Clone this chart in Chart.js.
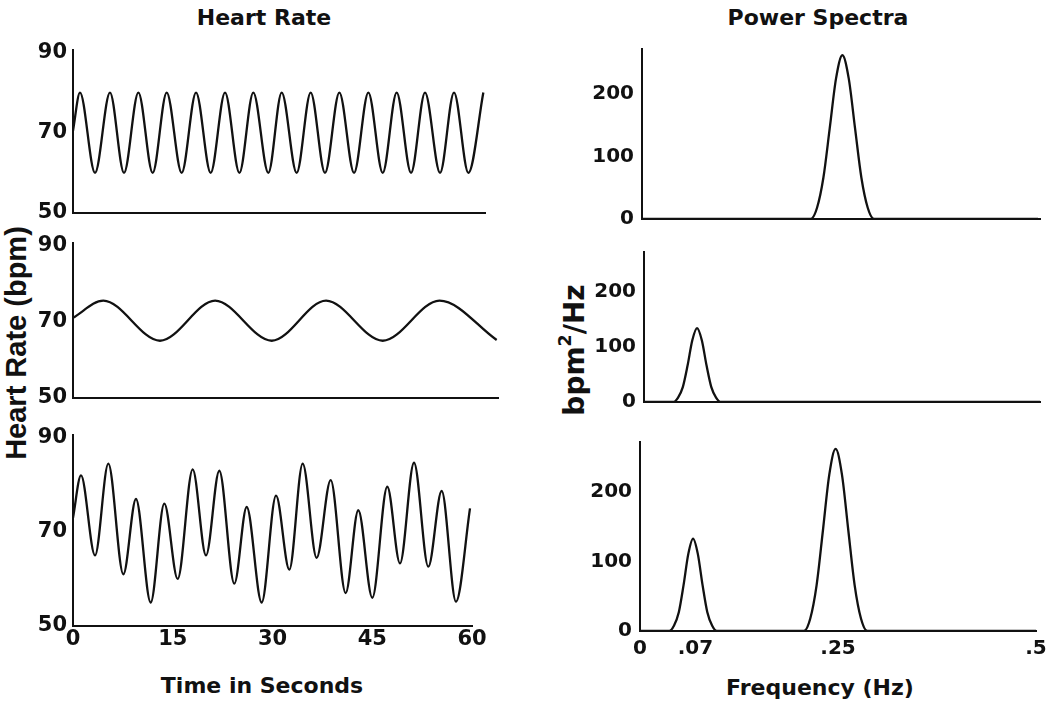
<!DOCTYPE html>
<html><head><meta charset="utf-8">
<script src="https://cdn.jsdelivr.net/npm/chart.js@4.4.1/dist/chart.umd.min.js"></script>
<style>
html,body{margin:0;padding:0;background:#fff;}
body{width:1050px;height:706px;position:relative;overflow:hidden;font-family:'DejaVu Sans',sans-serif;font-weight:bold;color:#111;}
canvas{position:absolute;}
.lbl{position:absolute;white-space:nowrap;transform:translate(-50%,-50%);line-height:1;}
.rot{transform:translate(-50%,-50%) rotate(-90deg);}
sup{font-size:0.62em;vertical-align:0.75em;line-height:0;}
</style></head><body>
<div class="lbl" style="left:264px;top:18px;font-size:22px">Heart Rate</div>
<div class="lbl" style="left:818px;top:18px;font-size:22px">Power Spectra</div>
<div class="lbl" style="left:262px;top:686px;font-size:22px">Time in Seconds</div>
<div class="lbl" style="left:820px;top:688px;font-size:22px">Frequency (Hz)</div>
<div class="lbl rot" style="left:16px;top:343px;font-size:29px;font-family:'Liberation Sans',Arial,sans-serif">Heart Rate (bpm)</div>
<div class="lbl rot" style="left:575px;top:350px;font-size:28px">bpm<sup>2</sup>/Hz</div>
<script>
// ---- tick labels ----
const hrTicks = [50, 70, 90];
const timeTicks = [0, 15, 30, 45, 60];
const powerTicks = [0, 100, 200];
const freqTicks = [0, 0.07, 0.25, 0.5];
const freqTickLabels = ['0', '.07', '.25', '.5'];

// ---- heart rate series (time in s, bpm) read at extrema ----
const fastTime = [0, 1.05, 3.31, 5.56, 7.67, 9.83, 11.98, 14.09, 16.34, 18.5, 20.7, 22.86, 25.02, 27.11, 29.37, 31.38, 33.63, 35.74, 37.89, 40.05, 42.26, 44.41, 46.57, 48.67, 50.83, 52.93, 55.19, 57.29, 59.45, 61.7];
const fastHR   = [70.5, 80, 60, 80, 60, 80, 60, 80, 60, 80, 60, 80, 60, 80, 60, 80, 60, 80, 60, 80, 60, 80, 60, 80, 60, 80, 60, 80, 60, 80];

const slowTime = [0, 4.56, 13.08, 21.37, 29.88, 38.05, 46.57, 55.1, 63.7];
const slowHR   = [71, 75.5, 65, 75.5, 65, 75.5, 65, 75.5, 65.2];

const mixTime = [0, 1.2, 3.31, 5.31, 7.57, 9.47, 11.68, 13.73, 15.74, 18.0, 20.0, 22.0, 24.26, 26.12, 28.37, 30.53, 32.53, 34.54, 36.64, 38.75, 41.0, 42.9, 45.01, 47.26, 49.17, 51.28, 53.43, 55.44, 57.59, 59.7];
const mixHR   = [73, 82, 65, 84.5, 61, 77, 55, 76, 60, 83.3, 65, 83, 59, 75.3, 55, 77.7, 62, 84.5, 64.5, 81, 57, 74.6, 56, 79.6, 63.3, 84.7, 62.6, 78.7, 55.2, 75];

// ---- power spectra (Hz, bpm^2/Hz) ----
const spec1Freq  = [0, 0.213, 0.221, 0.229, 0.237, 0.245, 0.253, 0.261, 0.269, 0.277, 0.285, 0.293, 0.5];
const spec1Power = [0, 0, 18, 66, 145, 225, 262, 225, 145, 66, 18, 0, 0];

const spec2Freq  = [0, 0.037, 0.043, 0.049, 0.055, 0.061, 0.067, 0.073, 0.079, 0.085, 0.091, 0.097, 0.5];
const spec2Power = [0, 0, 8, 27, 66, 112, 134, 112, 66, 27, 8, 0, 0];

const spec3Freq  = [0, 0.037, 0.043, 0.049, 0.055, 0.061, 0.067, 0.073, 0.079, 0.085, 0.091, 0.097, 0.207, 0.215, 0.223, 0.231, 0.239, 0.247, 0.255, 0.263, 0.271, 0.279, 0.287, 0.5];
const spec3Power = [0, 0, 8, 27, 66, 111, 133, 111, 66, 27, 8, 0, 0, 18, 66, 145, 225, 262, 225, 145, 66, 18, 0, 0];

Chart.defaults.font.family = "'DejaVu Sans', sans-serif";
Chart.defaults.font.weight = 'bold';
Chart.defaults.color = '#111';

function series(xs, ys) { return xs.map((x, i) => ({ x: x, y: ys[i] })); }

function panel(rect, cfg) {
  const padT = 22, padR = cfg.padR || 22, padL = 2, padB = cfg.xH ? 4 : 22;
  const left = rect.left - cfg.yW - padL;
  const top = rect.top - padT;
  const w = rect.right + padR - left;
  const h = rect.bottom + (cfg.xH || 0) + padB - top;
  const c = document.createElement('canvas');
  c.width = w; c.height = h;
  c.style.left = left + 'px'; c.style.top = top + 'px';
  c.style.width = w + 'px'; c.style.height = h + 'px';
  document.body.appendChild(c);
  const border = { display: true, color: '#111', width: 2 };
  new Chart(c, {
    type: 'line',
    data: { datasets: [{ data: series(cfg.xs, cfg.ys), borderColor: '#111', borderWidth: 2.3, pointRadius: 0, fill: false, cubicInterpolationMode: 'monotone' }] },
    options: {
      responsive: false, animation: false, events: [],
      layout: { padding: { top: padT, right: padR, bottom: padB, left: padL } },
      plugins: { legend: { display: false }, tooltip: { enabled: false }, title: { display: false } },
      scales: {
        x: {
          type: 'linear', min: 0, max: cfg.xMax,
          grid: { display: false, drawTicks: false }, border: border,
          ticks: { display: !!cfg.xTicks, padding: cfg.xPad || 0, autoSkip: false, maxRotation: 0, minRotation: 0,
                   font: { size: cfg.xFont || 20 }, callback: cfg.xLabel || (v => String(v)) },
          afterBuildTicks: s => { if (cfg.xTicks) s.ticks = cfg.xTicks.map(v => ({ value: v })); },
          afterFit: s => { s.height = cfg.xH || 0; s.paddingLeft = 0; s.paddingRight = 0; }
        },
        y: {
          type: 'linear', min: cfg.yMin, max: cfg.yMax,
          grid: { display: false, drawTicks: false }, border: border,
          ticks: { padding: cfg.yPad, font: { size: cfg.yFont } },
          afterBuildTicks: s => { s.ticks = cfg.yTicks.map(v => ({ value: v })); },
          afterFit: s => { s.width = cfg.yW; s.paddingTop = 0; s.paddingBottom = 0; }
        }
      }
    }
  });
}

const hrBase = { yW: 45, yMin: 50, yMax: 90.6, yTicks: hrTicks, yPad: 6, yFont: 21 };
panel({ left: 73, top: 50, right: 485, bottom: 213 }, Object.assign({}, hrBase, { xs: fastTime, ys: fastHR, xMax: 61.95 }));
panel({ left: 73, top: 243, right: 498, bottom: 398 }, Object.assign({}, hrBase, { xs: slowTime, ys: slowHR, xMax: 63.9 }));
panel({ left: 73, top: 435, right: 472, bottom: 626 }, Object.assign({}, hrBase, { xs: mixTime, ys: mixHR, xMax: 60,
  xTicks: timeTicks, xH: 28, xPad: 1, xFont: 21 }));

const psBase = { yW: 55, yMin: 0, yMax: 272, yTicks: powerTicks, yPad: 8, yFont: 20 };
panel({ left: 642, top: 49, right: 1040, bottom: 219 }, Object.assign({}, psBase, { xs: spec1Freq, ys: spec1Power, xMax: 0.5025, padR: 8 }));
panel({ left: 644, top: 252, right: 1040, bottom: 402 }, Object.assign({}, psBase, { xs: spec2Freq, ys: spec2Power, xMax: 0.5, padR: 8 }));
panel({ left: 640, top: 442, right: 1036, bottom: 631 }, Object.assign({}, psBase, { xs: spec3Freq, ys: spec3Power, xMax: 0.5, padR: 14,
  xTicks: freqTicks, xH: 31, xPad: 6, xFont: 20, xLabel: (v) => freqTickLabels[freqTicks.indexOf(v)] }));
</script>
</body></html>
